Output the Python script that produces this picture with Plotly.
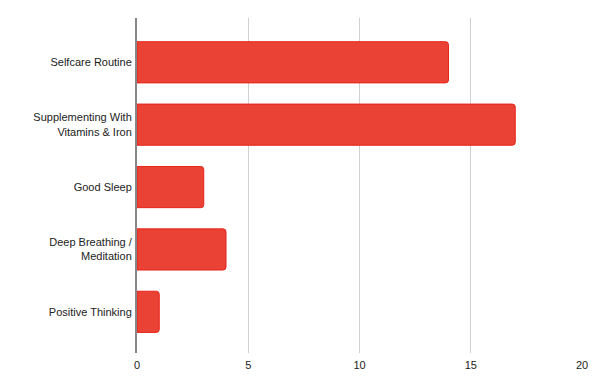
import plotly.graph_objects as go

categories = ["Selfcare Routine", "Supplementing With<br>Vitamins & Iron", "Good Sleep",
              "Deep Breathing /<br>Meditation", "Positive Thinking"]
values = [14, 17, 3, 4, 1]
x_ticks = [0, 5, 10, 15, 20]

fig = go.Figure(go.Bar(
    y=categories, x=values, orientation="h",
    marker=dict(color="#EA4335", line=dict(color="#E8231A", width=1), cornerradius=3),
    width=0.66,
))
fig.update_layout(
    width=602, height=389,
    margin=dict(l=129, r=28, t=10, b=44, autoexpand=False),
    plot_bgcolor="white", paper_bgcolor="white",
    font=dict(family="Liberation Sans, Arial, sans-serif", size=11, color="#222222"),
    showlegend=False,
)
fig.update_xaxes(range=[0, 20], tickvals=x_ticks, showgrid=True, gridcolor="#D0D0D0",
                 gridwidth=1, zeroline=False, showline=False, ticks="", ticklabelstandoff=4)
fig.update_yaxes(categoryorder="array", categoryarray=categories, autorange=False,
                 range=[4.66, -0.71], showgrid=False, zeroline=False,
                 showline=True, linecolor="#888888", linewidth=2, ticks="",
                 ticklabelstandoff=1)
fig.write_html("out.html")
